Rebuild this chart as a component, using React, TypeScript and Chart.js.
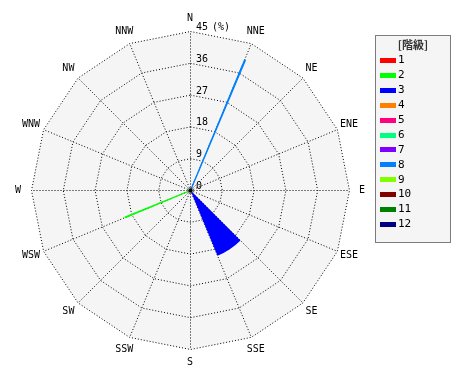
import React, { useEffect, useRef } from 'react';
import { Chart, registerables } from 'chart.js';

Chart.register(...registerables);

// ---- data ----
const directions = ['N', 'NNE', 'NE', 'ENE', 'E', 'ESE', 'SE', 'SSE', 'S', 'SSW', 'SW', 'WSW', 'W', 'WNW', 'NW', 'NNW'];
const classLabels = ['1', '2', '3', '4', '5', '6', '7', '8', '9', '10', '11', '12'];
const class1 = [0, 0, 0, 0, 0, 0, 0, 0, 0, 0, 0, 0, 0, 0, 0, 0];
const class2 = [0, 0, 0, 0, 0, 0, 0, 0, 0, 0, 0, 20, 0, 0, 0, 0];
const class3 = [0, 0, 0, 0, 0, 0, 20, 0, 0, 0, 0, 0, 0, 0, 0, 0];
const class4 = [0, 0, 0, 0, 0, 0, 0, 0, 0, 0, 0, 0, 0, 0, 0, 0];
const class5 = [0, 0, 0, 0, 0, 0, 0, 0, 0, 0, 0, 0, 0, 0, 0, 0];
const class6 = [0, 0, 0, 0, 0, 0, 0, 0, 0, 0, 0, 0, 0, 0, 0, 0];
const class7 = [0, 0, 0, 0, 0, 0, 0, 0, 0, 0, 0, 0, 0, 0, 0, 0];
const class8 = [0, 40, 0, 0, 0, 0, 0, 0, 0, 0, 0, 0, 0, 0, 0, 0];
const class9 = [0, 0, 0, 0, 0, 0, 0, 0, 0, 0, 0, 0, 0, 0, 0, 0];
const class10 = [0, 0, 0, 0, 0, 0, 0, 0, 0, 0, 0, 0, 0, 0, 0, 0];
const class11 = [0, 0, 0, 0, 0, 0, 0, 0, 0, 0, 0, 0, 0, 0, 0, 0];
const class12 = [0, 0, 0, 0, 0, 0, 0, 0, 0, 0, 0, 0, 0, 0, 0, 0];
const radialMax = 45;
const radialStep = 9;
const unitLabel = '(%)';
const legendTitle = '[階級]';

// ---- style ----
const classColors = ['#ff0000', '#00ff00', '#0000ff', '#ff8000', '#ff0080', '#00ff80', '#8000ff', '#0080ff', '#80ff00', '#800000', '#008000', '#000080'];
const thinDirections = ['NNE', 'WSW'];
const FULL = 360 / directions.length;
const THIN = 0.35;
const EPS = 0.0001;
const MONO = '"DejaVu Sans Mono", monospace';
const PANEL = '#f5f5f5';
const DOTS = [1, 2];

const allClasses = [class1, class2, class3, class4, class5, class6, class7, class8, class9, class10, class11, class12];

function sectorWidth(d: number) {
  return thinDirections.includes(directions[d]) ? THIN : FULL - EPS;
}

function buildDatasets() {
  return allClasses.map((cls, k) => {
    const data: number[] = [];
    directions.forEach((_, d) => {
      let cum = 0;
      for (let j = 0; j <= k; j++) cum += allClasses[j][d];
      data.push(cls[d] > 0 ? cum : 0);
      data.push(0);
    });
    return {
      label: classLabels[k],
      data,
      backgroundColor: classColors[k],
      borderColor: classColors[k],
      borderWidth: (ctx: any) => {
        const d = Math.floor(ctx.dataIndex / 2);
        return ctx.dataIndex % 2 === 0 && sectorWidth(d) < 1 ? 1.3 : 0;
      },
      angle: (ctx: any) => {
        const d = Math.floor(ctx.dataIndex / 2);
        const w = sectorWidth(d);
        return ctx.dataIndex % 2 === 0 ? w : FULL - w;
      },
    };
  });
}

const decorPlugin = {
  id: 'decor',
  beforeDraw(chart: any) {
    const ctx = chart.ctx;
    ctx.save();
    ctx.translate(0.5, 0.5);
    const s = chart.scales.r;
    const n = directions.length;
    ctx.beginPath();
    for (let i = 0; i < n; i++) {
      const p = s.getPointPosition(i, s.getDistanceFromCenterForValue(s.max));
      if (i === 0) ctx.moveTo(p.x, p.y);
      else ctx.lineTo(p.x, p.y);
    }
    ctx.closePath();
    ctx.fillStyle = PANEL;
    ctx.fill();
  },
  afterDraw(chart: any) {
    const ctx = chart.ctx;
    const s = chart.scales.r;
    // centre dot
    ctx.fillStyle = '#000';
    ctx.beginPath();
    ctx.arc(s.xCenter, s.yCenter, 2.2, 0, Math.PI * 2);
    ctx.fill();
    ctx.restore();

    // tick labels
    ctx.save();
    ctx.font = '10px ' + MONO;
    ctx.fillStyle = '#000';
    ctx.textAlign = 'left';
    ctx.textBaseline = 'alphabetic';
    s.ticks.forEach((t: any) => {
      const r = s.getDistanceFromCenterForValue(t.value);
      ctx.fillText(String(t.value), s.xCenter + 6, s.yCenter - r - 1);
      if (t.value === s.max) ctx.fillText(unitLabel, s.xCenter + 22, s.yCenter - r - 1);
    });

    // point labels
    ctx.textAlign = 'center';
    ctx.textBaseline = 'middle';
    ctx.font = '10px ' + MONO;
    directions.forEach((lab, i) => {
      const p = s.getPointPosition(i, s.drawingArea + 13);
      ctx.fillText(lab, p.x, p.y);
    });

    // legend
    const lx = 375.5, ly = 35.5, lw = 75, lh = 207;
    ctx.fillStyle = PANEL;
    ctx.fillRect(lx, ly, lw, lh);
    ctx.strokeStyle = '#000';
    ctx.lineWidth = 1;
    ctx.setLineDash([1, 1]);
    ctx.strokeRect(lx, ly, lw, lh);
    ctx.setLineDash([]);
    ctx.fillStyle = '#333';
    ctx.font = 'bold 11px "Noto Sans CJK JP", sans-serif';
    ctx.textAlign = 'center';
    ctx.fillText(legendTitle, lx + lw / 2, 45);
    ctx.textAlign = 'left';
    ctx.font = '11px ' + MONO;
    chart.data.datasets.forEach((ds: any, i: number) => {
      const cy = 60.5 + i * 14.9;
      ctx.fillStyle = ds.backgroundColor;
      ctx.fillRect(380, Math.round(cy - 2.5), 16, 5);
      ctx.fillStyle = '#000';
      ctx.fillText(ds.label, 398, cy);
    });
    ctx.restore();
  },
};

export default function App() {
  const ref = useRef<HTMLCanvasElement>(null);
  useEffect(() => {
    if (!ref.current) return;
    const chart = new Chart(ref.current, {
      type: 'polarArea',
      data: { labels: directions, datasets: buildDatasets() as any },
      options: {
        responsive: false,
        maintainAspectRatio: false,
        animation: false,
        layout: { padding: { left: 31, top: 31, right: 121, bottom: 31 } },
        plugins: { legend: { display: false }, tooltip: { enabled: false } },
        scales: {
          r: {
            min: 0,
            max: radialMax,
            startAngle: 0,
            ticks: { stepSize: radialStep, display: false },
            pointLabels: { display: false },
            grid: { circular: false, color: '#000', lineWidth: 1, borderDash: DOTS },
            border: { dash: DOTS },
            angleLines: { display: true, color: '#000', lineWidth: 1, borderDash: DOTS },
          },
        },
      } as any,
      plugins: [decorPlugin],
    });
    return () => chart.destroy();
  }, []);
  return (
    <canvas
      ref={ref}
      width={470}
      height={380}
      style={{ position: 'absolute', left: 0, top: 0, width: 470, height: 380, display: 'block' }}
    />
  );
}
